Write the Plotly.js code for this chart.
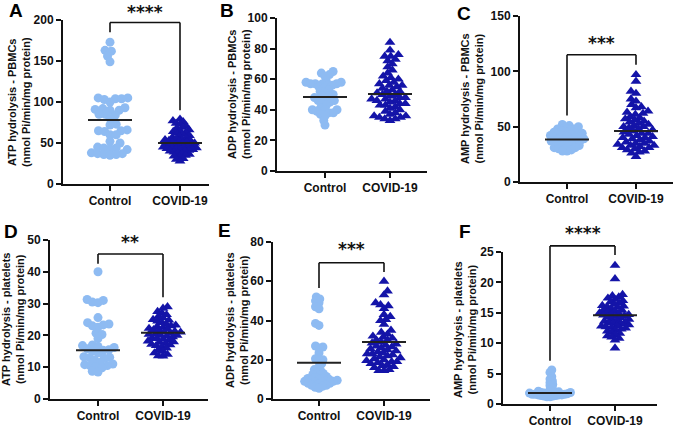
<!DOCTYPE html>
<html>
<head>
<meta charset="utf-8">
<script src="https://cdn.plot.ly/plotly-3.0.1.min.js"></script>
<style>html,body{margin:0;padding:0;background:#fff;}#chart{width:685px;height:428px;}</style>
</head>
<body>
<div id="chart"></div>
<script>
// ---------------- DATA ----------------
const groups = ['Control', 'COVID-19'];
const panelLetters = ['A', 'B', 'C', 'D', 'E', 'F'];
const yTitleLine1 = ['ATP hydrolysis - PBMCs', 'ADP hydrolysis - PBMCs', 'AMP hydrolysis - PBMCs',
                     'ATP hydrolysis - platelets', 'ADP hydrolysis - platelets', 'AMP hydrolysis - platelets'];
const yTitleLine2 = '(nmol Pi/min/mg protein)';
const significance = ['****', '', '***', '**', '***', '****'];

const atpPbmcControl = [173,163,162,156,149,105,105,104,104,103,100,93,92,91,90,90,85,85,84,80,73,72,66,65,65,64,60,60,52,50,45,44,44,43,42,38,37,37,36,36,35];
const atpPbmcCovid = [79,77,76,74,73,71,69,68,66,65,64,63,62,61,59,58,57,56,55,55,54,53,53,52,51,51,50,50,49,48,48,47,47,46,45,45,44,44,43,43,42,42,41,40,40,39,38,37,36,35,34,33,31,30,28];
const atpPbmcCenter = [78, 50];

const adpPbmcControl = [65,64,63,62,59,58,58,57,57,57,57,56,56,55,54,53,52,51,50,49,49,48,47,46,46,45,44,43,41,40,40,40,39,38,38,37,36,33,30];
const adpPbmcCovid = [84,79,76,75,75,73,72,70,68,66,64,62,61,60,59,58,57,56,56,55,54,53,52,52,51,50,50,49,48,48,47,47,46,46,45,44,44,43,43,42,41,40,39,38,37,36,36,35,35,34,34,33];
const adpPbmcCenter = [48.3, 50.3];

const ampPbmcControl = [52,51,50,49,48,48,47,46,45,45,44,44,43,43,42,42,41,41,40,40,39,39,38,38,37,37,36,36,35,35,34,33,33,32,31,31,30,29,28,28];
const ampPbmcCovid = [97,91,82,80,75,73,70,68,67,64,63,62,61,59,58,57,56,55,54,53,52,51,50,50,49,48,47,46,45,44,44,43,42,41,40,40,39,38,37,36,35,35,34,33,33,32,31,31,30,29,28,27,26,23];
const ampPbmcCenter = [38.5, 46];

const atpPltControl = [40,31.3,31,30.5,30.3,25.6,24,23.6,23.3,23,22.6,20.7,20.3,19,17,16.8,16.5,16.2,15.8,15.5,15.3,15,14.5,13.3,13.1,13,12.8,12.2,11.5,11,10.8,10.5,10.4,10.2,9.8,8.7,8.5];
const atpPltCovid = [29,28.5,27.5,27,26.5,26,25.5,25,24.8,24.5,24,23.5,23.2,23,22.8,22.5,22.2,22,21.8,21.5,21.3,21,21,20.8,20.5,20.3,20,20,19.8,19.5,19.2,19,18.8,18.5,18.2,18,17.8,17.5,17.2,17,16.8,16.5,16,15.5,15,14.5,14,13.6,13.5];
const atpPltCenter = [15.3, 20.8];

const adpPltControl = [52,51,50,49,47,46,38.5,37.5,27,26.5,26,23.5,20.5,20,19.5,18,16.5,15,14.5,13.5,13,12.5,12,11.5,11,10.5,10.5,10,10,9.5,9.5,9,9,9,8.5,8.5,8,8,7.5,7,7,6.5,6,5.5];
const adpPltCovid = [60,55,53,49,48,47.5,46,43,42,40.5,40,38,35,34,33,32,31.5,31,30,30,29,28.5,28,27.5,27,26.5,26,25.5,25,24.5,24,23.5,23,23,22.5,22,21.5,21,20.5,20,19.5,19,19,18.5,18,17.5,17,16.5,16,15,14.5,14.5];
const adpPltCenter = [18.5, 29];

const ampPltControl = [5.6,5.2,4.5,4.1,3.8,3.5,3.2,3.0,2.6,2.3,2.1,2.0,1.9,1.9,1.9,1.8,1.8,1.8,1.7,1.7,1.7,1.6,1.6,1.6,1.5,1.5,1.5,1.4,1.4,1.3,1.3,1.2,1.2];
const ampPltCovid = [22.8,20.6,18,17.8,17.6,17.4,17.2,17,16.8,16.6,16.4,16.2,16.1,16,15.9,15.7,15.5,15.4,15.3,15.2,15,14.9,14.8,14.7,14.6,14.5,14.4,14.3,14.2,14,13.9,13.7,13.6,13.5,13.4,13.3,13.2,13,12.9,12.8,12.7,12.6,12.5,12.3,12.2,12,11.8,11.6,11.4,11.2,11,10.8,10.5,9.2];
const ampPltCenter = [1.8, 14.6];

const controlSeries = [atpPbmcControl, adpPbmcControl, ampPbmcControl, atpPltControl, adpPltControl, ampPltControl];
const covidSeries = [atpPbmcCovid, adpPbmcCovid, ampPbmcCovid, atpPltCovid, adpPltCovid, ampPltCovid];
const centers = [atpPbmcCenter, adpPbmcCenter, ampPbmcCenter, atpPltCenter, adpPltCenter, ampPltCenter];
const yMax = [200, 100, 150, 50, 80, 25];
const yStep = [50, 20, 50, 10, 20, 5];

// ---------------- LAYOUT CONFIG (pixels) ----------------
const W = 685, H = 428;
const boxes = [
  {xL: 63, xR: 209, t0: 110, t1: 180, yTop: 20, yBot: 184, letter: [16, 11], title: [19, 102]},
  {xL: 277, xR: 427, t0: 325, t1: 390, yTop: 18, yBot: 171, letter: [227, 11], title: [239, 94]},
  {xL: 520, xR: 673, t0: 567, t1: 636, yTop: 16, yBot: 182, letter: [464, 13], title: [472, 99]},
  {xL: 50, xR: 208, t0: 98, t1: 163, yTop: 240, yBot: 399, letter: [11, 231], title: [13, 320]},
  {xL: 273, xR: 430, t0: 319, t1: 384, yTop: 242, yBot: 399, letter: [224, 230], title: [237, 320]},
  {xL: 503, xR: 657, t0: 550, t1: 615, yTop: 252, yBot: 404, letter: [465, 232], title: [465, 329]}
];
// bracket: [top, leftEnd, rightEnd, starsY] in data units
const brackets = [
  [197, 185, 90, 210],
  null,
  [115, 60, 106, 126],
  [45.6, 42.5, 32, 49.5],
  [69.4, 56.5, 64.7, 76.5],
  [26, 7.1, 24.5, 28.2]
];

const controlColor = '#8EBBF2';
const covidColor = '#1414A8';
const tickFont = {family: 'Liberation Sans, Arial, sans-serif', size: 12, color: '#111', weight: 'bold'};

function swarmOffsets(vals, pxPerY, maxHalf) {
  let sep = 9;
  let res;
  while (true) {
    const idx = vals.map((v, i) => i).sort((a, b) => vals[a] - vals[b]);
    const placed = [];
    res = new Array(vals.length);
    let flip = 1;
    for (const i of idx) {
      const y = vals[i] * pxPerY;
      const near = placed.filter(p => Math.abs(p.y - y) < sep);
      const cands = [0];
      near.forEach(p => {
        const dx = Math.sqrt(sep * sep - (p.y - y) * (p.y - y));
        cands.push(p.x + dx, p.x - dx);
      });
      cands.sort((a, b) => Math.abs(a) - Math.abs(b) || (flip * (b - a)));
      let chosen = 0;
      for (const c of cands) {
        if (near.every(p => (p.x - c) * (p.x - c) + (p.y - y) * (p.y - y) >= sep * sep - 1e-6)) { chosen = c; break; }
      }
      flip = -flip;
      placed.push({x: chosen, y: y});
      res[i] = chosen;
    }
    const w = Math.max(...res.map(Math.abs));
    if (w <= maxHalf || sep <= 3) break;
    sep -= 0.25;
  }
  return res;
}

const traces = [];
const layout = {
  width: W, height: H,
  margin: {l: 0, r: 0, t: 0, b: 0},
  paper_bgcolor: '#fff', plot_bgcolor: '#fff',
  showlegend: false,
  shapes: [], annotations: []
};

boxes.forEach((b, i) => {
  const n = i === 0 ? '' : String(i + 1);
  const xa = 'x' + n, ya = 'y' + n;
  const pxPerX = b.t1 - b.t0;
  const xr = [(b.xL - b.t0) / pxPerX, (b.xR - b.t0) / pxPerX];
  const pxPerY = (b.yBot - b.yTop) / yMax[i];
  layout['xaxis' + n] = {
    domain: [b.xL / W, b.xR / W], range: xr, anchor: ya,
    tickvals: [0, 1], ticktext: groups, tickfont: tickFont,
    showline: true, linewidth: 2, linecolor: '#111', ticks: 'outside', ticklen: 5, tickwidth: 2, tickcolor: '#111',
    showgrid: false, zeroline: false, fixedrange: true
  };
  layout['yaxis' + n] = {
    domain: [1 - b.yBot / H, 1 - b.yTop / H], range: [0, yMax[i]], anchor: xa,
    dtick: yStep[i], tick0: 0, tickfont: tickFont,
    showline: true, linewidth: 2, linecolor: '#111', ticks: 'outside', ticklen: 5, tickwidth: 2, tickcolor: '#111',
    showgrid: false, zeroline: false, fixedrange: true
  };
  const series = [controlSeries[i], covidSeries[i]];
  series.forEach((vals, g) => {
    const offs = swarmOffsets(vals, pxPerY, 19);
    traces.push({
      type: 'scatter', mode: 'markers', xaxis: xa, yaxis: ya,
      x: vals.map((v, k) => g + offs[k] / pxPerX), y: vals,
      marker: {color: g === 0 ? controlColor : covidColor, size: g === 0 ? 9 : 9.5,
               symbol: g === 0 ? 'circle' : 'triangle-up', line: {width: 0}},
      cliponaxis: false, hoverinfo: 'y'
    });
  });
  centers[i].forEach((m, g) => {
    const hw = 22 / pxPerX;
    traces.push({
      type: 'scatter', mode: 'lines', xaxis: xa, yaxis: ya,
      x: [g - hw, g + hw], y: [m, m],
      line: {color: '#222', width: 2}, hoverinfo: 'skip'
    });
  });
  layout.annotations.push({
    xref: 'paper', yref: 'paper', x: b.letter[0] / W, y: 1 - b.letter[1] / H,
    xanchor: 'center', yanchor: 'middle', showarrow: false,
    text: panelLetters[i], font: {family: 'Liberation Sans, Arial, sans-serif', size: 19, color: '#000', weight: 'bold'}
  });
  layout.annotations.push({
    xref: 'paper', yref: 'paper', x: b.title[0] / W, y: 1 - b.title[1] / H,
    xanchor: 'center', yanchor: 'middle', showarrow: false, textangle: -90,
    text: yTitleLine1[i] + '<br>' + yTitleLine2,
    font: {family: 'Liberation Sans, Arial, sans-serif', size: 11, color: '#111', weight: 'bold'}
  });
  const br = brackets[i];
  if (br) {
    const fx = v => (v - xr[0]) / (xr[1] - xr[0]);
    const fy = v => v / yMax[i];
    const ref = {xref: xa + ' domain', yref: ya + ' domain'};
    const ln = {color: '#111', width: 1.6};
    layout.shapes.push(Object.assign({type: 'line', x0: fx(0), x1: fx(0), y0: fy(br[1]), y1: fy(br[0]), line: ln}, ref));
    layout.shapes.push(Object.assign({type: 'line', x0: fx(0), x1: fx(1), y0: fy(br[0]), y1: fy(br[0]), line: ln}, ref));
    layout.shapes.push(Object.assign({type: 'line', x0: fx(1), x1: fx(1), y0: fy(br[2]), y1: fy(br[0]), line: ln}, ref));
    layout.annotations.push(Object.assign({
      x: fx(0.5), y: fy(br[3]), xanchor: 'center', yanchor: 'middle', showarrow: false,
      text: significance[i], font: {family: 'DejaVu Sans, sans-serif', size: 17, color: '#111', weight: 'bold'}
    }, ref));
  }
});

Plotly.newPlot('chart', traces, layout, {staticPlot: true, displayModeBar: false});
</script>
</body>
</html>
